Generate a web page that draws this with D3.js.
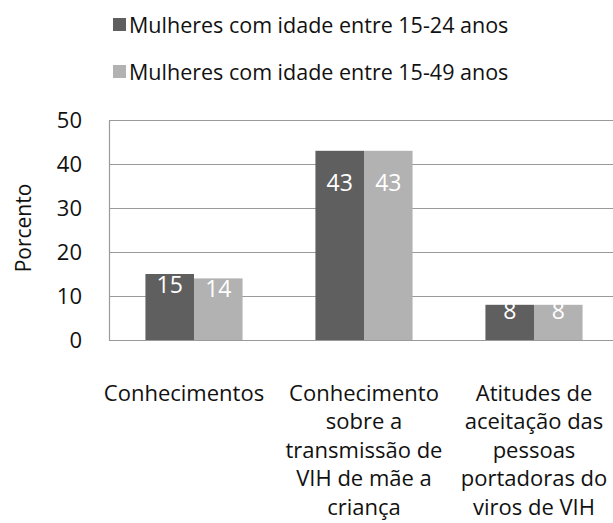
<!DOCTYPE html>
<html>
<head>
<meta charset="utf-8">
<script src="https://cdn.jsdelivr.net/npm/d3@7"></script>
<style>
  body { margin: 0; background: #fff; }
  text { font-family: "Open Sans", sans-serif; fill: #111; }
</style>
</head>
<body>
<svg id="chart" width="613" height="523"></svg>
<script>
// chart data
var categories = [
    ["Conhecimentos"],
    ["Conhecimento", "sobre a", "transmissão de", "VIH de mãe a", "criança"],
    ["Atitudes de", "aceitação das", "pessoas", "portadoras do", "viros de VIH"]
];
var seriesNames = ["Mulheres com idade entre 15-24 anos", "Mulheres com idade entre 15-49 anos"];
var values1524 = [15, 43, 8];
var values1549 = [14, 43, 8];
var yTicks = [0, 10, 20, 30, 40, 50];
var colors = ["#5f5f5f", "#b2b2b2"];

var svg = d3.select("#chart");
var margin = { top: 120, left: 109, bottom: 340, right: 619 };

var x0 = d3.scaleBand()
    .domain(d3.range(categories.length))
    .range([margin.left, margin.right])
    .padding(0);
var x1 = d3.scaleBand()
    .domain([0, 1])
    .range([0, x0.bandwidth()])
    .paddingInner(0)
    .paddingOuter(0.75);
var y = d3.scaleLinear()
    .domain([0, 50])
    .range([margin.bottom, margin.top]);

// gridlines
svg.append("g")
    .selectAll("line")
    .data(yTicks)
    .enter().append("line")
    .attr("x1", margin.left)
    .attr("x2", margin.right)
    .attr("y1", function (d) { return Math.round(y(d)) + 0.5; })
    .attr("y2", function (d) { return Math.round(y(d)) + 0.5; })
    .attr("stroke", "#9a9a9a")
    .attr("stroke-width", 1.2);

// y axis
var yAxis = svg.append("g")
    .attr("transform", "translate(" + margin.left + ",0)")
    .call(d3.axisLeft(y).tickValues(yTicks).tickSize(0).tickPadding(27));
yAxis.select(".domain").attr("stroke", "#9a9a9a").attr("stroke-width", 1.2);
yAxis.selectAll("text")
    .style("font-size", "22px")
    .attr("fill", "#111")
    .attr("dy", "0.35em");

svg.append("text")
    .attr("transform", "translate(31,228) rotate(-90)")
    .attr("text-anchor", "middle")
    .style("font-size", "21px")
    .text("Porcento");

// bars
var series = [values1524, values1549];
var groups = svg.append("g")
    .selectAll("g")
    .data(categories)
    .enter().append("g")
    .attr("transform", function (d, i) { return "translate(" + x0(i) + ",0)"; });

groups.selectAll("rect")
    .data(function (d, i) { return series.map(function (s, k) { return { k: k, v: s[i] }; }); })
    .enter().append("rect")
    .attr("x", function (d) { return x1(d.k); })
    .attr("width", x1.bandwidth())
    .attr("y", function (d) { return y(d.v); })
    .attr("height", function (d) { return y(0) - y(d.v); })
    .attr("fill", function (d) { return colors[d.k]; });

// value labels sit near the top, inside the bar
groups.selectAll("text.val")
    .data(function (d, i) { return series.map(function (s, k) { return { k: k, v: s[i] }; }); })
    .enter().append("text")
    .attr("class", "val")
    .attr("x", function (d) { return x1(d.k) + x1.bandwidth() / 2; })
    .attr("y", function (d) { return y(d.v * 0.83); })
    .attr("dy", "0.35em")
    .attr("text-anchor", "middle")
    .style("font-size", "23px")
    .style("fill", "#fff")
    .text(function (d) { return d.v; });

// category labels
var catLabels = svg.append("g")
    .selectAll("text")
    .data(categories)
    .enter().append("text")
    .attr("text-anchor", "middle")
    .style("font-size", "22px")
    .attr("x", function (d, i) { return x0(i) + x0.bandwidth() / 2; })
    .attr("y", 393);
catLabels.each(function (lines, i) {
    var t = d3.select(this);
    lines.forEach(function (line, j) {
        t.append("tspan")
            .attr("x", x0(i) + x0.bandwidth() / 2 - (i == 0 ? 10 : 0))
            .attr("y", 393 + j * 28.5)
            .attr("dy", "0.35em")
            .text(line);
    });
});

// legend
var legend = svg.append("g")
    .selectAll("g")
    .data(seriesNames)
    .enter().append("g")
    .attr("transform", function (d, i) { return "translate(113," + (18 + i * 47) + ")"; });
legend.append("rect")
    .attr("width", 13)
    .attr("height", 13)
    .attr("fill", function (d, i) { return colors[i]; });
legend.append("text")
    .attr("x", 16)
    .attr("y", 7)
    .attr("dy", "0.35em")
    .style("font-size", "21.5px")
    .text(function (d) { return d; });
</script>
</body>
</html>
